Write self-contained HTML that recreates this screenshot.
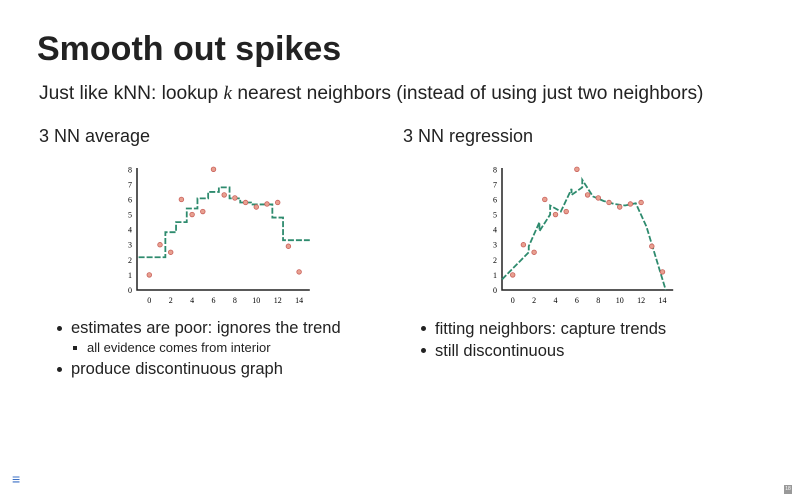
<!DOCTYPE html>
<html><head><meta charset="utf-8"><style>
body{margin:0;width:800px;height:500px;background:#fff;font-family:"Liberation Sans",sans-serif;color:#222;position:relative;overflow:hidden}
.a{position:absolute;white-space:nowrap}
.b{position:relative;padding-left:14px}
.b::before{content:"";position:absolute;left:0;top:8px;width:5px;height:5px;border-radius:50%;background:#222}
.s{position:relative;padding-left:14px;font-size:13px;line-height:18px;margin-left:2px}
.s::before{content:"";position:absolute;left:0;top:7px;width:4px;height:4px;background:#222}
</style></head><body>
<div class="a" style="left:37px;top:30px;font-size:34px;font-weight:bold;">Smooth out spikes</div>
<div class="a" style="left:39px;top:83px;font-size:19.2px;">Just like kNN: lookup <i style="font-family:'Liberation Serif',serif">k</i> nearest neighbors (instead of using just two neighbors)</div>
<div class="a" style="left:39px;top:126px;font-size:18px;">3 NN average</div>
<div class="a" style="left:403px;top:126px;font-size:18px;">3 NN regression</div>
<svg class="a" style="left:0;top:0" width="800" height="500">
<g id="c1"></g>
<g id="c2"></g>
</svg>
<div class="a" style="left:57px;top:318px;font-size:16.5px;line-height:21px">
<div class="b">estimates are poor: ignores the trend</div>
<div class="s" style="margin-left:16px">all evidence comes from interior</div>
<div class="b" style="margin-top:2px">produce discontinuous graph</div>
</div>
<div class="a" style="left:421px;top:318px;font-size:16.5px;line-height:22px">
<div class="b">fitting neighbors: capture trends</div>
<div class="b">still discontinuous</div>
</div>
<div class="a" style="left:12px;top:471px;font-size:14px;color:#3b6fc4;font-weight:bold">≡</div>
<div class="a" style="left:784px;top:485px;width:8px;height:9px;background:#999;color:#fff;font-size:5px;text-align:center;line-height:9px">18</div>
<script>
const xs=[0,1,2,3,4,5,6,7,8,9,10,11,12,13,14];
const ys=[1,3,2.5,6,5,5.2,8,6.3,6.1,5.8,5.5,5.7,5.8,2.9,1.2];
const stepX=[-1,1.5,2.5,3.5,4.5,5.5,6.5,7.5,8.5,9.5,10.5,11.5,12.5,15];
const stepY=[2.17,3.83,4.5,5.4,6.07,6.5,6.8,6.07,5.8,5.67,5.67,4.8,3.3];
const regX=[-1,1.5,1.5,2.5,2.5,3.5,3.5,4.5,5.5,5.5,6.5,6.5,7.5,8.5,9.5,10.5,11.5,12.5,14.3];
const regY=[0.7,2.5,2.9,4.5,3.9,5.0,5.6,5.2,6.7,6.3,6.8,7.3,6.2,5.9,5.7,5.6,5.75,4.2,0];
const xTicks=[0,2,4,6,8,10,12,14];
const yTicks=[0,1,2,3,4,5,6,7,8];
const NS='http://www.w3.org/2000/svg';
function mk(p,t,a){const e=document.createElementNS(NS,t);for(const k in a)e.setAttribute(k,a[k]);p.appendChild(e);return e;}
function chart(g,x0,axisX,kind){
 const sx=v=>x0+v*10.7, sy=v=>290-v*15.09;
 const ax=mk(g,'path',{d:`M${axisX},168V290H${sx(15)}`,stroke:'#222','stroke-width':1.5,fill:'none'});
 
 xTicks.forEach(v=>{const t=mk(g,'text',{x:sx(v),y:303,'font-size':8,'text-anchor':'middle','font-family':'Liberation Serif,serif'});t.textContent=v;
  });
 yTicks.forEach(v=>{const t=mk(g,'text',{x:axisX-7,y:sy(v)+3,'font-size':8,'text-anchor':'middle','font-family':'Liberation Serif,serif'});t.textContent=v;
  });
 let d='';
 if(kind==='step'){stepY.forEach((y,i)=>{d+=(i?'L':'M')+sx(stepX[i])+','+sy(y)+'L'+sx(stepX[i+1])+','+sy(y);});}
 else{regX.forEach((x,i)=>{d+=(i?'L':'M')+sx(x)+','+sy(regY[i]);});}
 const l=mk(g,'path',{d,stroke:'#2e8b6e','stroke-width':1.8,fill:'none','stroke-dasharray':'6,2'});
 
 xs.forEach((x,i)=>{const c=mk(g,'circle',{cx:sx(x),cy:sy(ys[i]),r:2.3,fill:'#e8a090',stroke:'#c9605a','stroke-width':0.8});
  });
}
chart(document.getElementById('c1'),149.3,137,'step');
chart(document.getElementById('c2'),512.7,502,'reg');
</script>
</body></html>
